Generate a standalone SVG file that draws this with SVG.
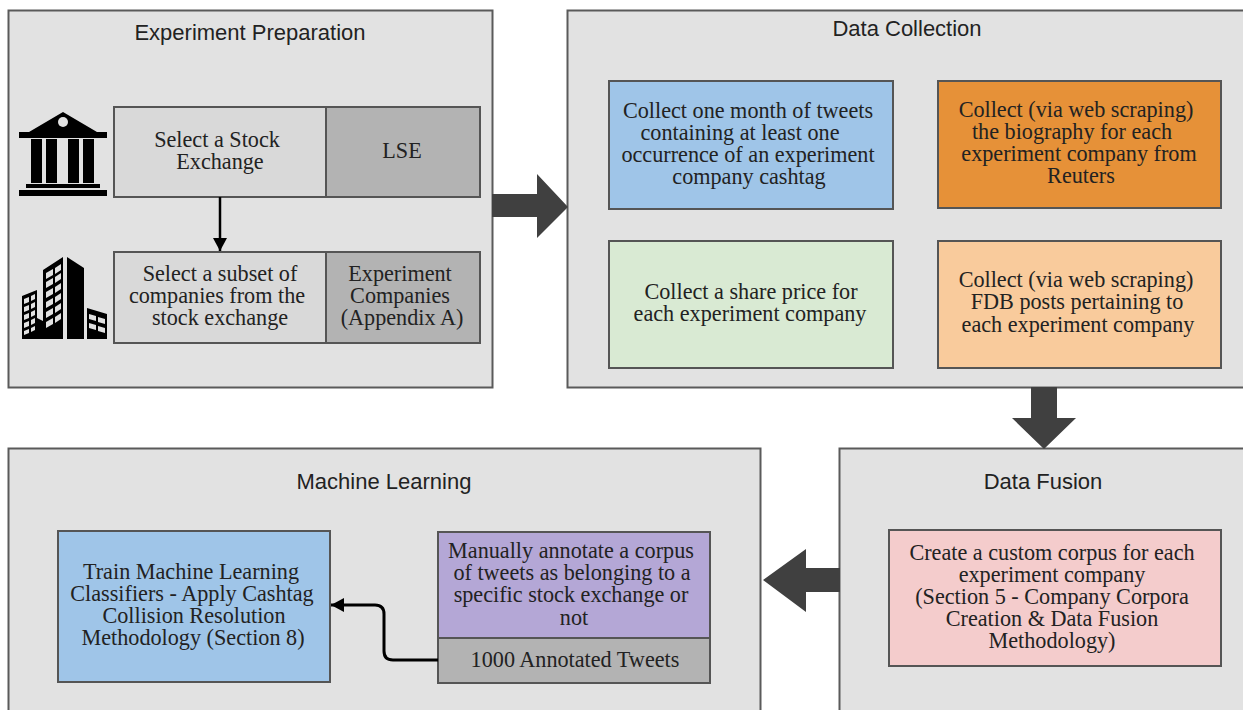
<svg xmlns="http://www.w3.org/2000/svg" width="1243" height="710" viewBox="0 0 1243 710">
<style>
.panel{fill:#e2e2e2;stroke:#5a5a5a;stroke-width:2}
.box{stroke:#555;stroke-width:2}
.t{font-family:"Liberation Serif",serif;font-size:22.2px;fill:#222;text-anchor:middle}
.h{font-family:"Liberation Sans",sans-serif;font-size:22px;fill:#222;text-anchor:middle}
.big{fill:#404040}
</style>
<defs><marker id="a" markerWidth="14" markerHeight="14" refX="13" refY="7" orient="auto" markerUnits="userSpaceOnUse"><path d="M0 0L13 7L0 14Z" fill="#000"/></marker></defs>
<rect width="1243" height="710" fill="#fff"/>
<g id="experiment-preparation">
<rect class="panel" x="8.500" y="10.500" width="484" height="377"/>
<text class="h" x="250" y="40">Experiment Preparation</text>
<g id="bank" fill="#000">
<path d="M63 112L97 132H107V138H19V132H29Z"/>
<circle cx="63" cy="122" r="5" fill="#e2e2e2"/>
<rect x="31" y="139" width="11" height="44"/><rect x="46" y="139" width="11" height="44"/><rect x="68" y="139" width="11" height="44"/><rect x="83" y="139" width="11" height="44"/>
<rect x="26" y="184" width="74" height="4"/><rect x="19" y="190" width="88" height="6"/>
</g>
<g id="buildings" fill="#000">
<path d="M22 339V296L37 290V318L43 321V270L63 257V339Z"/>
<path d="M67 257L84 268V339H67Z"/>
<path d="M87 308L107 314V339H87Z"/>
<g fill="#e2e2e2">
<path d="M46 273L53 269V275L46 279ZM55 268L61 264V270L55 274ZM46 282L53 278V284L46 288ZM55 277L61 273V279L55 283ZM46 292L53 288V294L46 298ZM55 287L61 283V289L55 293ZM46 302L53 298V304L46 308ZM55 297L61 293V299L55 303ZM46 312L53 308V314L46 318ZM55 307L61 303V309L55 313ZM46 322L53 318V324L46 328ZM55 317L61 313V319L55 323Z"/>
<path d="M24 299L29 297V302L24 304ZM31 296L35 294V299L31 301ZM24 307L29 305V310L24 312ZM31 304L35 302V307L31 309ZM24 315L29 313V318L24 320ZM31 312L35 310V315L31 317ZM24 323L29 321V326L24 328ZM31 320L35 318V323L31 325ZM24 331L29 329V333L24 335ZM31 328L35 326V330L31 332Z"/>
<path d="M89 314L96 316V321L89 319ZM98 317L105 319V324L98 322ZM89 323L96 325V330L89 328ZM98 326L105 328V333L98 331Z"/>
</g>
</g>
<g id="select-exchange">
<rect class="box" x="114" y="107" width="212" height="90" fill="#d9d9d9"/>
<text class="t" x="217" y="147">Select a Stock</text><text class="t" x="220" y="169">Exchange</text>
</g>
<g id="lse">
<rect class="box" x="326" y="107" width="154" height="90" fill="#b3b3b3"/>
<text class="t" x="402" y="158">LSE</text>
</g>
<g id="select-subset">
<rect class="box" x="114" y="252" width="212" height="91" fill="#d9d9d9"/>
<text class="t" x="220" y="281">Select a subset of</text><text class="t" x="217" y="303">companies from the</text><text class="t" x="220" y="325">stock exchange</text>
</g>
<g id="experiment-companies">
<rect class="box" x="326" y="252" width="154" height="91" fill="#b3b3b3"/>
<text class="t" x="400" y="281">Experiment</text><text class="t" x="400" y="303">Companies</text><text class="t" x="402" y="325">(Appendix A)</text>
</g>
</g>
<g id="data-collection">
<rect class="panel" x="567.500" y="10.500" width="690" height="377"/>
<text class="h" x="907" y="36">Data Collection</text>
<g id="collect-tweets">
<rect class="box" x="609" y="81" width="284" height="128" fill="#9fc5e8"/>
<text class="t" x="748" y="118">Collect one month of tweets</text><text class="t" x="740" y="140">containing at least one</text><text class="t" x="748" y="162">occurrence of an experiment</text><text class="t" x="749" y="184">company cashtag</text>
</g>
<g id="collect-biography">
<rect class="box" x="938" y="81" width="283" height="127" fill="#e69138"/>
<text class="t" x="1076" y="117">Collect (via web scraping)</text><text class="t" x="1072" y="139">the biography for each</text><text class="t" x="1079" y="161">experiment company from</text><text class="t" x="1081" y="183">Reuters</text>
</g>
<g id="collect-price">
<rect class="box" x="609" y="241" width="284" height="127" fill="#d9ead3"/>
<text class="t" x="751" y="299">Collect a share price for</text><text class="t" x="750" y="321">each experiment company</text>
</g>
<g id="collect-fdb">
<rect class="box" x="938" y="241" width="283" height="127" fill="#f9cb9c"/>
<text class="t" x="1076" y="287">Collect (via web scraping)</text><text class="t" x="1077" y="309">FDB posts pertaining to</text><text class="t" x="1078" y="332">each experiment company</text>
</g>
</g>
<g id="data-fusion">
<rect class="panel" x="839.500" y="448.500" width="420" height="280"/>
<text class="h" x="1043" y="489">Data Fusion</text>
<rect class="box" x="889" y="530" width="332" height="136" fill="#f4cccc"/>
<text class="t" x="1052" y="560">Create a custom corpus for each</text><text class="t" x="1052" y="582">experiment company</text><text class="t" x="1052" y="604">(Section 5 - Company Corpora</text><text class="t" x="1052" y="626">Creation &amp; Data Fusion</text><text class="t" x="1052" y="648">Methodology)</text>
</g>
<g id="machine-learning">
<rect class="panel" x="8.500" y="448.500" width="752" height="280"/>
<text class="h" x="384" y="489">Machine Learning</text>
<g id="train">
<rect class="box" x="58" y="531" width="272" height="151" fill="#9fc5e8"/>
<text class="t" x="191" y="579">Train Machine Learning</text><text class="t" x="192" y="601">Classifiers - Apply Cashtag</text><text class="t" x="194" y="623">Collision Resolution</text><text class="t" x="193" y="645">Methodology (Section 8)</text>
</g>
<g id="annotate">
<rect class="box" x="438" y="532" width="272" height="106" fill="#b4a7d6"/>
<text class="t" x="571" y="558">Manually annotate a corpus</text><text class="t" x="572" y="580">of tweets as belonging to a</text><text class="t" x="571" y="602">specific stock exchange or</text><text class="t" x="574" y="625">not</text>
</g>
<g id="annotated-tweets">
<rect class="box" x="438" y="638" width="272" height="45" fill="#b3b3b3"/>
<text class="t" x="575" y="667">1000 Annotated Tweets</text>
</g>
</g>
<g id="connectors">
<path d="M220 197V251" fill="none" stroke="#000" stroke-width="2.500" marker-end="url(#a)"/>
<path d="M438 660H393Q384 660 384 651V614Q384 605 375 605H331" fill="none" stroke="#000" stroke-width="3" marker-end="url(#a)"/>
<path class="big" d="M492 194H537V174L568 207L537 238V217H492Z"/>
<path class="big" d="M1031 387H1057V418H1076L1044 449L1012 418H1031Z"/>
<path class="big" d="M840 568H806V549L763 580L806 612V592H840Z"/>
</g>
</svg>
